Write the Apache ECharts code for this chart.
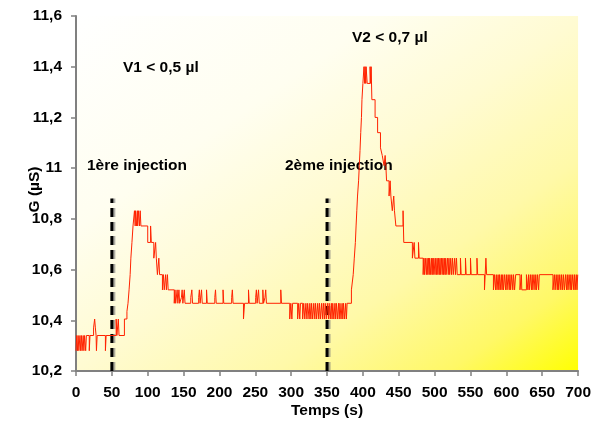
<!DOCTYPE html>
<html>
<head>
<meta charset="utf-8">
<script src="https://cdn.jsdelivr.net/npm/echarts@6/dist/echarts.min.js"></script>
<style>
html,body{margin:0;padding:0;background:#fff;}
#chart{width:594px;height:430px;}
</style>
</head>
<body>
<div id="chart"></div>
<script>
// ---- data (time in s, conductance in µS), change points of the recorded step signal ----
const segmentBefore1 = [
  [0,10.28],[1,10.34],[2,10.28],[3,10.34],[4,10.28],[5.5,10.34],[6.5,10.28],[7.5,10.34],
  [8.5,10.28],[10,10.34],[11,10.28],[12,10.34],[13.5,10.28],[14.5,10.34],[18.5,10.28],[19.5,10.34],
  [24.5,10.37],[26,10.405],[27,10.37],[28,10.34],[28.5,10.28],[29.5,10.34],[41,10.28],[42,10.34]
];
const segmentPeak1 = [
  [56,10.405],[57,10.34],[59,10.405],[60,10.34],
  [67.5,10.405],[71,10.435],[72.5,10.467],[74,10.52],[75.5,10.58],[76.5,10.645],[78,10.707],
  [79.5,10.772],[81.5,10.832],[82.5,10.772],[83,10.832],[84.5,10.772],[85.5,10.832],[86,10.772],
  [87,10.832],[88.5,10.772],[89.5,10.832],[90.5,10.772],
  [100,10.707],[104,10.772],[105,10.707],[108.5,10.645],[111,10.707],[112,10.645],[113.5,10.58],
  [115.5,10.645],[116.5,10.58],[120.5,10.52],[122,10.58],[123,10.52],[125,10.58],[126,10.52],
  [127.5,10.58],[128.5,10.52],[137,10.467],[138,10.52],[139,10.467],[141,10.52],[142,10.467]
];
const segmentPlateau = [
  [143.5,10.52],[144.5,10.467],[147,10.49],[148,10.52],[149,10.467],[151,10.52],[152,10.467],
  [160,10.49],[161.5,10.52],[162.5,10.467],[171,10.49],[172,10.52],[173,10.467],[175,10.52],[176,10.467],
  [182,10.52],[183,10.467],[193.5,10.49],[194.5,10.52],[195.5,10.467],[205,10.52],[206,10.467],
  [217,10.49],[218,10.52],[219,10.467],[233.5,10.405],[235,10.467],[240.5,10.52],[241.5,10.467],
  [250.5,10.49],[251.5,10.52],[252.5,10.467],[254.5,10.52],[255.5,10.467],[260.5,10.52],[261.5,10.467],
  [263.5,10.49],[264.5,10.52],[265.5,10.467],[285.5,10.52],[286.5,10.467],
  [298,10.405],[299.5,10.467],[301,10.405],[302,10.467],[309,10.405],[310.5,10.467],[312,10.405],[313,10.467],
  [316,10.405],[317.5,10.467],[319,10.405],[320.5,10.467],[322,10.405],[323,10.467],[325,10.405],[326,10.467],
  [327.5,10.405],[328.5,10.467],[330,10.405],[331.5,10.467],[333,10.405],[334,10.467],[335.5,10.405],[337,10.467],
  [338.5,10.405],[339.5,10.467],[341,10.405],[342.5,10.467],[344,10.405],[345,10.467],[346.5,10.405],[347.5,10.467],
  [349,10.405],[350.5,10.467],[352,10.405],[353,10.467],[354.5,10.405],[356,10.467],[357,10.405],[358,10.467],
  [359.5,10.405],[361,10.467],[362,10.405],[363,10.467],[364.5,10.405],[366,10.467],[367,10.405],[368,10.467],
  [369.5,10.405],[371,10.467],[372,10.405],[373,10.467],[374.5,10.405],[376,10.467],[377,10.405],[378,10.467]
];
const segmentPeak2 = [
  [384,10.52],[386.5,10.58],[388,10.645],[389.5,10.707],[390.5,10.772],[391.5,10.832],[392.5,10.89],
  [394,10.95],[395,11.01],[396,11.07],[397,11.14],[398,11.2],[398.7,11.27],[400,11.334],
  [401.5,11.40],[402.5,11.334],[403,11.40],[404,11.334],[404.5,11.40],[406,11.334],[410,11.40],
  [411,11.334],[411.5,11.40],[412.5,11.27],[417,11.2],[420.5,11.14],[424.5,11.08],[427,11.05],
  [429.5,11.01],[431,11.05],[432,11.01],[433,10.95],[436.5,10.89],[438,10.95],[439,10.89],
  [441,10.832],[443,10.89],[444,10.832],[446,10.772],[456,10.832],[457,10.707],[469,10.645],
  [471.5,10.707],[472.5,10.645],[477.5,10.707],[478.5,10.645],[484,10.58]
];
const segmentTail = [
  [485,10.645],[486,10.58],[487,10.645],[488.5,10.58],[489.5,10.645],[490.5,10.58],[491.5,10.645],
  [492.5,10.58],[493,10.645],[494.5,10.58],[495.5,10.645],[496.5,10.58],[497.5,10.645],[498,10.58],
  [499,10.645],[500.5,10.58],[501.5,10.645],[502.5,10.58],[503.5,10.645],[504.5,10.58],[505.5,10.645],
  [506.5,10.58],[507.5,10.645],[508,10.58],[509.5,10.645],[510.5,10.58],[511.5,10.645],[512.5,10.58],
  [513.5,10.645],[514.5,10.58],[515.5,10.645],[516,10.58],[518,10.645],[519,10.58],[520,10.645],
  [521,10.58],[522.5,10.645],[523.5,10.58],[525,10.645],[526,10.58],[528,10.645],[529,10.58],
  [530.5,10.645],[531.5,10.58],
  [536,10.645],[537,10.58],[543,10.645],[544,10.58],[550,10.645],[551,10.58],[559,10.645],[560,10.58],
  [569.5,10.52],[570.5,10.58],[571.5,10.645],[572.5,10.58],
  [582,10.52],[583.5,10.58],[585,10.52],[586,10.58],[587,10.52],[588.5,10.58],[589.5,10.52],[590.5,10.58],
  [591.5,10.52],[593,10.58],[594,10.52],[595,10.58],[596,10.52],[597.5,10.58],[599,10.52],[600,10.58],
  [601,10.52],[602.5,10.58],[604,10.52],[605,10.58],[606,10.52],[607.5,10.58],[609,10.52],[610,10.58],
  [611.5,10.52],[613,10.58],
  [619,10.52],[621,10.58],[621.5,10.52],[628,10.58],[630,10.52],[631,10.58],[632,10.52],[633.5,10.58],
  [635,10.52],[636,10.58],[637,10.52],[638.5,10.58],[640,10.52],[641,10.58],[642,10.52],[643.5,10.58],
  [645,10.52],[646,10.58],
  [665,10.52],[667,10.58],[668,10.52],[669.5,10.58],[671,10.52],[672,10.58],[673,10.52],[674.5,10.58],
  [676,10.52],[677,10.58],[678.5,10.52],[679.5,10.58],[681,10.52],[682.5,10.58],[684,10.52],[685,10.58],
  [686,10.52],[687.5,10.58],[689,10.52],[690,10.58],[691,10.52],[692.5,10.58],[694,10.52],[695,10.58],
  [696,10.52],[697.5,10.58],[698.5,10.52],[699.5,10.58],[700,10.58]
];

const injectionTimes = [50, 350];
const injectionBottom = 10.2;
const injectionTop = 10.88;

const volumeLabels = ['V1 < 0,5 µl', 'V2 < 0,7 µl'];
const injectionLabels = ['1ère injection', '2ème injection'];

const xName = 'Temps (s)';
const yName = 'G (µS)';
const xMin = 0, xMax = 700, xStep = 50;
const yMin = 10.2, yMax = 11.6, yStep = 0.2;

// ---- chart ----
const signal = [].concat(segmentBefore1, segmentPeak1, segmentPlateau, segmentPeak2, segmentTail);
const FONT = '"Liberation Sans", Arial, sans-serif';
const FS = 15.5;
const chart = echarts.init(document.getElementById('chart'), null, {renderer: 'canvas'});

const injectionSeries = injectionTimes.map(t => ({
  type: 'line',
  data: [[t, injectionBottom], [t, injectionTop]],
  showSymbol: false,
  silent: true,
  z: 3,
  lineStyle: {color: '#000', width: 3, type: [9, 5],
    shadowColor: 'rgba(120,120,120,0.6)', shadowOffsetX: 2, shadowBlur: 0}
}));

const textStyle = {font: 'bold ' + FS + 'px ' + FONT, fill: '#000'};

// plot area is 506 x 355 px: gradient runs so that iso-lines follow the anti-diagonal
chart.setOption({
  animation: false,
  backgroundColor: '#fff',
  grid: {
    left: 76, right: 12, top: 16, bottom: 59,
    show: true, borderWidth: 0,
    backgroundColor: {
      type: 'linear', x: 0, y: 0, x2: 0.66, y2: 1.34,
      colorStops: [
        {offset: 0, color: '#ffffff'},
        {offset: 0.3, color: '#fffef0'},
        {offset: 0.5, color: '#fffbd2'},
        {offset: 0.7, color: '#fff9a8'},
        {offset: 0.87, color: '#fff866'},
        {offset: 1, color: '#ffff00'}
      ]
    }
  },
  xAxis: {
    type: 'value', min: xMin, max: xMax, interval: xStep,
    name: xName, nameLocation: 'middle', nameGap: 32, nameMoveOverlap: false,
    nameTextStyle: {fontFamily: FONT, fontWeight: 'bold', fontSize: FS, color: '#000'},
    axisLine: {show: true, onZero: false, lineStyle: {color: '#808080', width: 2}},
    axisTick: {show: true, inside: false, length: 5, lineStyle: {color: '#808080', width: 1.5}},
    axisLabel: {fontFamily: FONT, fontWeight: 'bold', fontSize: FS, color: '#000', margin: 14},
    splitLine: {show: false}
  },
  yAxis: {
    type: 'value', min: yMin, max: yMax, interval: yStep,
    name: yName, nameLocation: 'middle', nameGap: 33, nameMoveOverlap: false,
    nameTextStyle: {fontFamily: FONT, fontWeight: 'bold', fontSize: FS, color: '#000',
      padding: [0, 0, 0, 8]},
    axisLine: {show: true, onZero: false, lineStyle: {color: '#808080', width: 2}},
    axisTick: {show: true, inside: false, length: 5, lineStyle: {color: '#808080', width: 1.5}},
    axisLabel: {fontFamily: FONT, fontWeight: 'bold', fontSize: FS, color: '#000', margin: 14,
      formatter: v => String(Math.round(v * 10) / 10).replace('.', ',')},
    splitLine: {show: false}
  },
  series: [
    {
      type: 'line', data: signal, step: 'end', showSymbol: false, z: 4,
      lineStyle: {color: '#ff2200', width: 1}
    }
  ].concat(injectionSeries),
  graphic: [
    {type: 'text', left: 123, top: 60, style: Object.assign({text: volumeLabels[0]}, textStyle)},
    {type: 'text', left: 352, top: 30, style: Object.assign({text: volumeLabels[1]}, textStyle)},
    {type: 'text', left: 87, top: 158, style: Object.assign({text: injectionLabels[0]}, textStyle)},
    {type: 'text', left: 285, top: 158, style: Object.assign({text: injectionLabels[1]}, textStyle)}
  ]
});
</script>
</body>
</html>
